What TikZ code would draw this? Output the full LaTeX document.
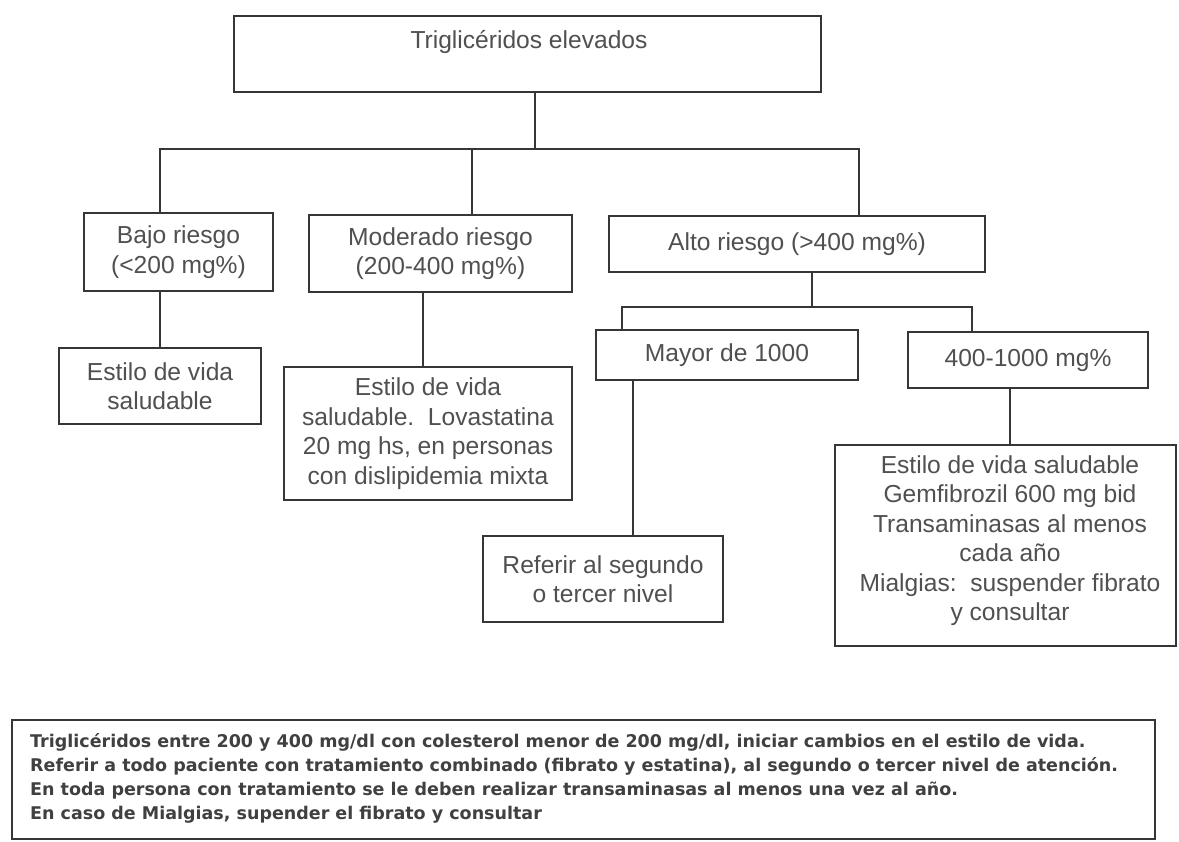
\documentclass[tikz,border=0pt]{standalone}
\usepackage{fontspec}
\setmainfont{Liberation Sans}
\newfontfamily\notefont{DejaVu Sans}
\definecolor{linec}{HTML}{363636}
\definecolor{textc}{HTML}{505050}
\definecolor{notec}{HTML}{404040}
\begin{document}
\begin{tikzpicture}[x=1pt,y=-1pt,
  box/.style={draw=linec, line width=2.6pt, fill=white, inner sep=0pt},
  txt/.style={text=textc, font=\fontsize{24.6}{29.5}\selectfont, align=center, inner sep=0pt},
  conn/.style={draw=linec, line width=2.6pt},
  notetxt/.style={text=notec, font=\notefont\bfseries\fontsize{17.5}{24}\selectfont, align=left, inner sep=0pt}]
\useasboundingbox[fill=white] (0,0) rectangle (1179,842);

% boxes
\node[box, minimum width=587, minimum height=76] (t0) at (527.5,54) {};
\node[txt] (t0txt) at (529,42) {Triglicéridos elevados};

\node[box, txt, minimum width=189, minimum height=78] (bajo) at (178.5,252) {Bajo riesgo\\(<200 mg\%)};
\node[box, txt, minimum width=263, minimum height=77] (mod) at (440.5,253.5) {Moderado riesgo\\(200-400 mg\%)};
\node[box, txt, minimum width=376, minimum height=56] (alto) at (797,244) {Alto riesgo (>400 mg\%)};

\node[box, txt, minimum width=202, minimum height=76] (est1) at (160,386) {Estilo de vida\\saludable};
\node[box, txt, minimum width=288, minimum height=133] (modc) at (428,433.5) {Estilo de vida\\saludable.\ \ Lovastatina\\20 mg hs, en personas\\con dislipidemia mixta};

\node[box, txt, minimum width=262, minimum height=50] (mayor) at (727,355) {Mayor de 1000};
\node[box, txt, minimum width=240, minimum height=56] (r4) at (1028,360) {400-1000 mg\%};

\node[box, txt, minimum width=240, minimum height=86] (ref) at (603,579) {Referir al segundo\\o tercer nivel};
\node[box, minimum width=341, minimum height=201] (big) at (1005.5,545.5) {};
\node[txt] (bigtxt) at (1010,540.5) {Estilo de vida saludable\\Gemfibrozil 600 mg bid\\Transaminasas al menos\\cada año\\Mialgias:\ \ suspender fibrato\\y consultar};

\node[box, minimum width=1143, minimum height=119] (note) at (583.5,779.5) {};
\node[notetxt, anchor=west] (notetext) at (30,778) {Triglicéridos entre 200 y 400 mg/dl con colesterol menor de 200 mg/dl, iniciar cambios en el estilo de vida.\\Referir a todo paciente con tratamiento combinado (fibrato y estatina), al segundo o tercer nivel de atención.\\En toda persona con tratamiento se le deben realizar transaminasas al menos una vez al año.\\En caso de Mialgias, supender el fibrato y consultar};

% junction coordinates
\coordinate (j0) at (535,149);
\coordinate (hl) at (160,149);
\coordinate (hm) at (472,149);
\coordinate (hr) at (859,149);
\coordinate (m2) at (423,330);
\coordinate (a1) at (812,307);
\coordinate (al) at (622,307);
\coordinate (ar) at (972,307);
\coordinate (c3) at (633,450);
\coordinate (c4) at (1010,420);

% connectors
\draw[conn] (t0.south -| j0) -- (j0);
\draw[conn] (bajo.north -| hl) -- (hl) -- (hr) -- (alto.north -| hr);
\draw[conn] (hm) -- (mod.north -| hm);
\draw[conn] (bajo.south -| hl) -- (est1.north -| hl);
\draw[conn] (mod.south -| m2) -- (modc.north -| m2);
\draw[conn] (alto.south -| a1) -- (a1);
\draw[conn] (mayor.north -| al) -- (al) -- (ar) -- (r4.north -| ar);
\draw[conn] (mayor.south -| c3) -- (ref.north -| c3);
\draw[conn] (r4.south -| c4) -- (big.north -| c4);
\end{tikzpicture}
\end{document}
